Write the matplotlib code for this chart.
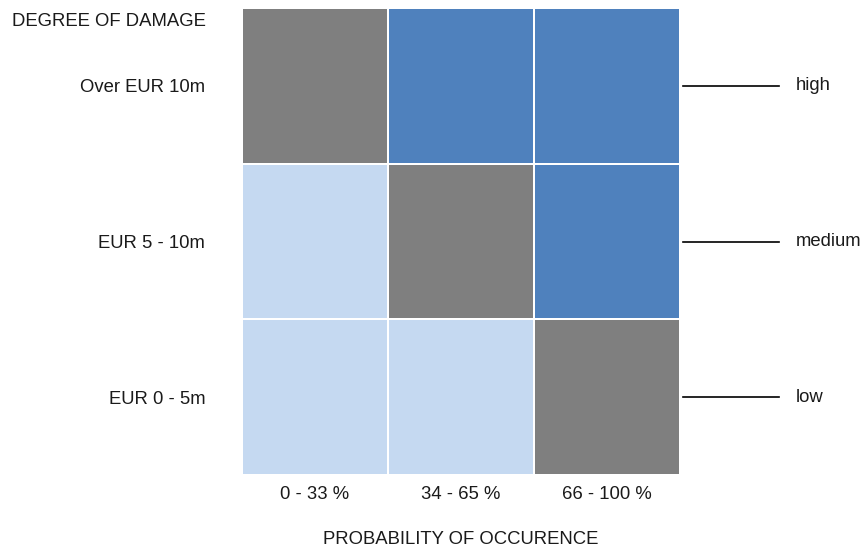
import numpy as np
import matplotlib
matplotlib.use("Agg")
import matplotlib.pyplot as plt
from matplotlib.colors import ListedColormap

plt.rcParams["font.family"] = ["Liberation Sans", "DejaVu Sans"]

# data
probability = ["0 - 33 %", "34 - 65 %", "66 - 100 %"]
damage = ["EUR 0 - 5m", "EUR 5 - 10m", "Over EUR 10m"]   # bottom to top
levels = ["low", "medium", "high"]
# risk level per cell (0 = low, 1 = medium, 2 = high), rows bottom to top
risk_low = [0, 0, 1]
risk_mid = [0, 1, 2]
risk_high = [1, 2, 2]

grid = np.array([risk_low, risk_mid, risk_high])
cmap = ListedColormap(["#c5d9f1", "#7f7f7f", "#4f81bd"])
FS = 13.3
TXT = "#1a1a1a"

fig = plt.figure(figsize=(8.66, 5.5), dpi=100)
ax = fig.add_axes([242 / 866, 1 - 475 / 550, 438 / 866, 467 / 550])

ax.pcolormesh(np.arange(4), np.arange(4), grid, cmap=cmap, vmin=-0.5, vmax=2.5,
              edgecolor="white", linewidth=1.2)
ax.set_xlim(0, 3)
ax.set_ylim(0, 3)
for s in ax.spines.values():
    s.set_visible(False)

ax.set_xticks(np.arange(3) + 0.5)
ax.set_xticklabels(probability, fontsize=FS, color=TXT)
ax.set_yticks(np.arange(3) + 0.5)
ax.set_yticklabels(damage, fontsize=FS, color=TXT)
ax.tick_params(length=0)
ax.tick_params(axis="x", pad=8)
ax.tick_params(axis="y", pad=26.5)

ax.set_xlabel("PROBABILITY OF OCCURENCE", fontsize=FS, color=TXT, labelpad=20)
fig.text(12 / 866, 1 - 21 / 550, "DEGREE OF DAMAGE", fontsize=FS, color=TXT,
         ha="left", va="center")

# level markers on the right
for i, lab in enumerate(levels):
    y = i + 0.5
    ax.plot([3.02, 3.68], [y, y], color="black", lw=1.2, clip_on=False)
    ax.text(3.79, y, lab, fontsize=FS, color=TXT, ha="left", va="center")

fig.savefig("out.png", dpi=100)
plt.close(fig)
